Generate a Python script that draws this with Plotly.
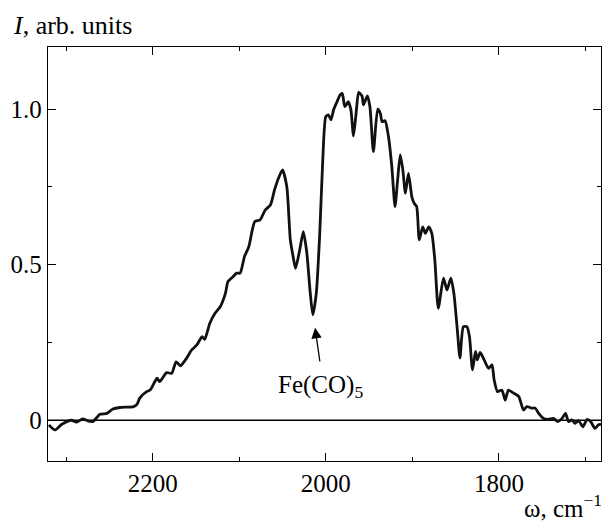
import plotly.graph_objects as go

# wavenumber (cm^-1) and intensity (arb. units)
wavenumber = [2320, 2313, 2305, 2294, 2288, 2281, 2274, 2269, 2261, 2253, 2246, 2238,
              2222, 2218, 2215, 2207, 2203, 2195, 2192, 2184, 2178, 2173, 2168, 2161,
              2155, 2149, 2143, 2140, 2134, 2128, 2122, 2116, 2113, 2107, 2103, 2099,
              2094, 2089, 2082, 2076, 2070, 2064, 2059, 2054, 2050, 2045, 2041, 2038,
              2035, 2030, 2026, 2022, 2018, 2015, 2011, 2007, 2003.5, 2000, 1997, 1994,
              1991, 1987, 1983.5, 1981, 1978, 1974, 1971, 1968, 1965, 1962, 1958, 1956.5,
              1952, 1949, 1945, 1940, 1937, 1935, 1931.5, 1927.6, 1923.7, 1920, 1917, 1914,
              1911, 1908, 1904.5, 1900.6, 1898, 1895, 1892, 1888, 1885, 1881, 1877.5, 1874,
              1870, 1864, 1860, 1855.5, 1852, 1848, 1845, 1841, 1837, 1834, 1830.5, 1827,
              1825, 1821.6, 1817, 1812, 1808, 1805.5, 1801.6, 1796.6, 1792.7, 1789, 1783,
              1777, 1771.6, 1767.7, 1762, 1758, 1754, 1748.5, 1743, 1737, 1732, 1727, 1723,
              1719.6, 1715.6, 1712, 1708, 1703, 1698, 1694, 1689, 1685, 1682]
intensity = [-0.015, -0.031, -0.013, 0.0, -0.006, 0.004, -0.003, -0.004, 0.019, 0.022, 0.036, 0.041,
             0.044, 0.052, 0.071, 0.092, 0.097, 0.135, 0.124, 0.153, 0.151, 0.188, 0.175, 0.199,
             0.226, 0.242, 0.269, 0.260, 0.312, 0.344, 0.365, 0.408, 0.446, 0.462, 0.473, 0.473,
             0.526, 0.558, 0.639, 0.644, 0.676, 0.692, 0.743, 0.783, 0.805, 0.75, 0.58, 0.53,
             0.488, 0.55, 0.606, 0.54, 0.41, 0.339, 0.408, 0.60, 0.837, 0.976, 0.982, 0.966,
             0.998, 1.024, 1.046, 1.051, 1.008, 1.024, 0.998, 0.914, 0.987, 1.054, 1.041, 1.014,
             1.043, 1.008, 0.864, 1.0, 0.987, 0.960, 0.963, 0.912, 0.815, 0.687, 0.773, 0.853,
             0.805, 0.730, 0.794, 0.719, 0.698, 0.687, 0.580, 0.622, 0.601, 0.622, 0.601, 0.515,
             0.360, 0.457, 0.419, 0.457, 0.408, 0.290, 0.200, 0.301, 0.301, 0.269, 0.162, 0.221,
             0.194, 0.218, 0.194, 0.167, 0.178, 0.130, 0.092, 0.097, 0.065, 0.097, 0.087,
             0.076, 0.033, 0.044, 0.039, 0.039, 0.022, 0.006, 0.003, 0.006, -0.004, 0.006, 0.022,
             -0.004, 0.001, -0.010, -0.001, -0.021, 0.003, -0.004, -0.026, -0.015, -0.012]

x_major = [2200, 2000, 1800]
x_labels = ["2200", "2000", "1800"]
x_minor = [2300, 2100, 1900, 1700]
y_major = [0, 0.5, 1.0]
y_labels = ["0", "0.5", "1.0"]
y_minor = [0.25, 0.75]

annot_label = "Fe(CO)<sub>5</sub>"
annot_tip = (2012.4, 0.297)
annot_tail = (2006.6, 0.184)
annot_text_pos = (2006.6, 0.107)

FONT = "Liberation Serif, Times New Roman, DejaVu Serif, serif"

fig = go.Figure()
fig.add_trace(go.Scatter(x=[2321, 1682], y=[0, 0], mode="lines",
                         line=dict(color="black", width=1.5), hoverinfo="skip",
                         showlegend=False))
fig.add_trace(go.Scatter(x=wavenumber, y=intensity, mode="lines",
                         line=dict(color="#111111", width=2.8, shape="spline", smoothing=0.6),
                         showlegend=False))

fig.add_annotation(x=annot_tip[0], y=annot_tip[1], ax=annot_tail[0], ay=annot_tail[1],
                   axref="x", ayref="y", xref="x", yref="y", text="", showarrow=True,
                   arrowhead=2, arrowsize=1.6, arrowwidth=1.3, arrowcolor="black")
fig.add_annotation(x=annot_text_pos[0], y=annot_text_pos[1], xref="x", yref="y",
                   text=annot_label, showarrow=False,
                   font=dict(family=FONT, size=25, color="black"))
fig.add_annotation(x=-0.067, y=1.053, xref="paper", yref="paper", xanchor="left",
                   yanchor="middle", text="<i>I</i>, arb. units", showarrow=False,
                   font=dict(family=FONT, size=26, color="black"))
fig.add_annotation(x=1.006, y=-0.108, xref="paper", yref="paper", xanchor="right",
                   yanchor="middle", text="ω, cm<sup>−1</sup>", showarrow=False,
                   font=dict(family=FONT, size=25, color="black"))

fig.update_layout(
    width=605, height=521,
    margin=dict(l=48, r=4, t=47, b=60),
    plot_bgcolor="white", paper_bgcolor="white",
    font=dict(family=FONT, size=25, color="black"),
    xaxis=dict(range=[2321, 1682], tickmode="array", tickvals=x_major, ticktext=x_labels,
               ticks="inside", ticklen=8, tickwidth=1.2, tickcolor="black",
               tickfont=dict(family=FONT, size=25, color="black"),
               showline=True, linecolor="black", linewidth=1.3, mirror="allticks",
               showgrid=False, zeroline=False,
               minor=dict(tickmode="array", tickvals=x_minor, ticks="inside", ticklen=4,
                          tickwidth=1.2, tickcolor="black", showgrid=False)),
    yaxis=dict(range=[-0.131, 1.2], tickmode="array", tickvals=y_major, ticktext=y_labels,
               ticks="inside", ticklen=8, tickwidth=1.2, tickcolor="black",
               tickfont=dict(family=FONT, size=25, color="black"),
               showline=True, linecolor="black", linewidth=1.3, mirror="allticks",
               showgrid=False, zeroline=False,
               minor=dict(tickmode="array", tickvals=y_minor, ticks="inside", ticklen=4,
                          tickwidth=1.2, tickcolor="black", showgrid=False)),
)

fig.write_html("out.html")
